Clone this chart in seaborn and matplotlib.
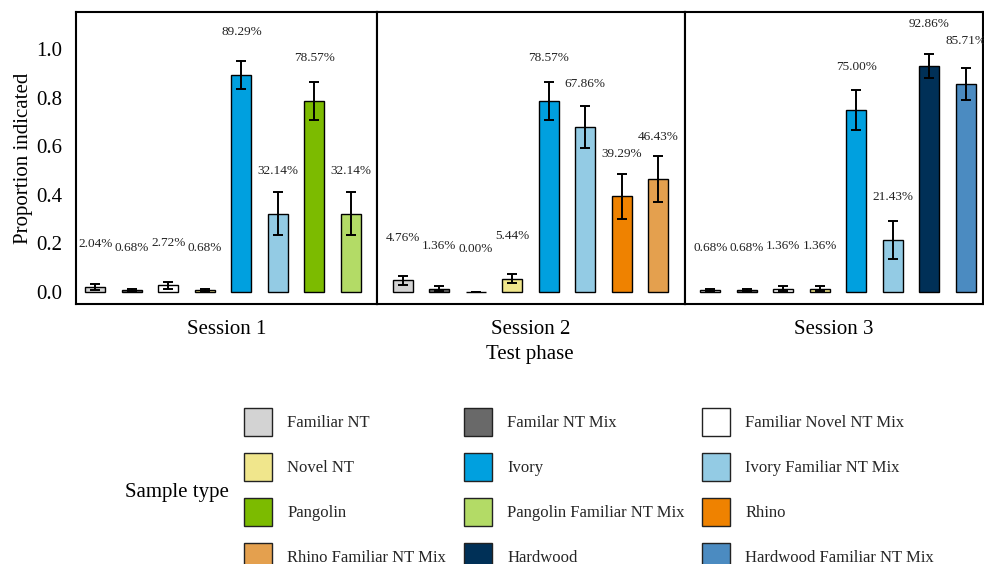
import matplotlib
matplotlib.use("Agg")
import matplotlib.pyplot as plt
import matplotlib.patches as mpatches
import seaborn as sns
import pandas as pd

sns.set_theme(style="white")
plt.rcParams["font.family"] = ["Liberation Serif", "DejaVu Serif"]

# Sample types and their fill colours
sample_types = [
    "Familiar NT", "Familar NT Mix", "Familiar Novel NT Mix",
    "Novel NT", "Ivory", "Ivory Familiar NT Mix",
    "Pangolin", "Pangolin Familiar NT Mix", "Rhino",
    "Rhino Familiar NT Mix", "Hardwood", "Hardwood Familiar NT Mix",
]
sample_colors = [
    "#D3D3D3", "#696969", "#FFFFFF",
    "#F0E68C", "#00A0DF", "#93CBE4",
    "#7CBB00", "#B3DB66", "#EF8200",
    "#E4A04E", "#003057", "#4B8BC1",
]

sessions = ["Session 1", "Session 2", "Session 3"]

# Samples shown in each session (bar order)
session1_samples = ["Familiar NT", "Familar NT Mix", "Familiar Novel NT Mix", "Novel NT",
                    "Ivory", "Ivory Familiar NT Mix", "Pangolin", "Pangolin Familiar NT Mix"]
session2_samples = ["Familiar NT", "Familar NT Mix", "Familiar Novel NT Mix", "Novel NT",
                    "Ivory", "Ivory Familiar NT Mix", "Rhino", "Rhino Familiar NT Mix"]
session3_samples = ["Familiar NT", "Familar NT Mix", "Familiar Novel NT Mix", "Novel NT",
                    "Ivory", "Ivory Familiar NT Mix", "Hardwood", "Hardwood Familiar NT Mix"]

# Proportion of trials indicated
session1_prop = [0.0204, 0.0068, 0.0272, 0.0068, 0.8929, 0.3214, 0.7857, 0.3214]
session2_prop = [0.0476, 0.0136, 0.0000, 0.0544, 0.7857, 0.6786, 0.3929, 0.4643]
session3_prop = [0.0068, 0.0068, 0.0136, 0.0136, 0.7500, 0.2143, 0.9286, 0.8571]

# Standard errors
session1_se = [0.0117, 0.0068, 0.0134, 0.0068, 0.0584, 0.0883, 0.0775, 0.0883]
session2_se = [0.0176, 0.0096, 0.0000, 0.0187, 0.0775, 0.0883, 0.0923, 0.0943]
session3_se = [0.0068, 0.0068, 0.0096, 0.0096, 0.0818, 0.0775, 0.0487, 0.0661]

frames = []
for s, samp, prop, se in zip(
    sessions,
    [session1_samples, session2_samples, session3_samples],
    [session1_prop, session2_prop, session3_prop],
    [session1_se, session2_se, session3_se],
):
    frames.append(pd.DataFrame({"session": s, "sample": samp, "prop": prop, "se": se}))
df = pd.concat(frames, ignore_index=True)

palette = dict(zip(sample_types, sample_colors))

W, H = 984, 564
fig = plt.figure(figsize=(W / 100, H / 100), dpi=100)

xlims = [(-0.53, 7.72), (-0.70, 7.72), (-0.70, 7.47)]
ratios = [hi - lo for lo, hi in xlims]
gs = fig.add_gridspec(1, 3, left=76 / W, right=983 / W, top=1 - 12 / H, bottom=1 - 304 / H,
                      wspace=0, width_ratios=ratios)

for k, s in enumerate(sessions):
    ax = fig.add_subplot(gs[0, k])
    sub = df[df["session"] == s]
    order = list(sub["sample"])
    sns.barplot(data=sub, x="sample", y="prop", hue="sample", order=order, hue_order=order,
                palette=palette, saturation=1, width=0.55, edgecolor="black", linewidth=1.0,
                errorbar=None, legend=False, ax=ax)
    xs = range(len(order))
    ax.errorbar(list(xs), sub["prop"], yerr=sub["se"], fmt="none", ecolor="black",
                elinewidth=1.4, capsize=3.3, capthick=1.4, zorder=5)
    for i, p in zip(xs, sub["prop"]):
        ax.text(i, p + 0.175, f"{p * 100:.2f}%", ha="center", va="center",
                fontsize=9.5, color="#222222", clip_on=False)
    ax.set_xlim(*xlims[k])
    ax.set_ylim(-0.05, 1.152)
    ax.set_xticks([])
    ax.set_xlabel(s, fontsize=15, labelpad=11.5, color="black")
    for sp in ax.spines.values():
        sp.set_visible(True)
        sp.set_color("black")
        sp.set_linewidth(1.5)
    ax.tick_params(axis="y", length=0, pad=10, labelsize=15, labelcolor="black")
    ax.set_yticks([0.0, 0.2, 0.4, 0.6, 0.8, 1.0])
    if k == 0:
        ax.set_yticklabels([f"{v:.1f}" for v in [0.0, 0.2, 0.4, 0.6, 0.8, 1.0]])
        ax.set_ylabel("Proportion indicated", fontsize=15, labelpad=2, color="black")
    else:
        ax.set_yticklabels([])
        ax.set_ylabel("")

fig.text((76 + 983) / 2 / W, 1 - 354 / H, "Test phase", ha="center", va="center",
         fontsize=15, color="black")

# Legend filled column by column so that rows read across
ncol, nrow = 3, 4
col_order = [sample_types[r * ncol + c] for c in range(ncol) for r in range(nrow)]
handles = [mpatches.Patch(facecolor=palette[t], edgecolor="#222222", linewidth=1.0, label=t)
           for t in col_order]
fig.legend(handles=handles, ncol=ncol, loc="upper left",
           bbox_to_anchor=(244 / W, 1 - 408 / H), frameon=False, fontsize=12,
           handlelength=1.7, handleheight=2.2, handletextpad=0.9, columnspacing=1.05,
           labelspacing=1.02, borderpad=0, borderaxespad=0)
fig.text(125 / W, 1 - 492 / H, "Sample type", ha="left", va="center", fontsize=15,
         color="black")

fig.savefig("out.png", dpi=100)
